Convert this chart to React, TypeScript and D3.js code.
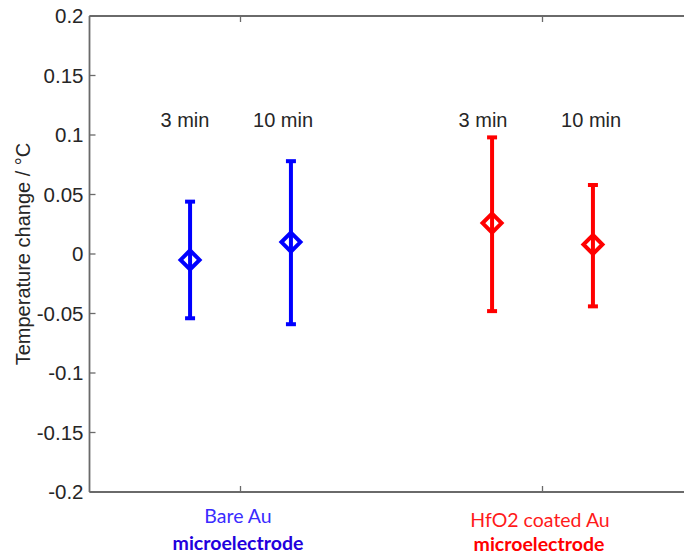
import React from "react";
import * as d3 from "d3";

const groups = ["Bare Au", "HfO2 coated Au"];
const groupColors = ["#0000ff", "#ff0000"];
const times = ["3 min", "10 min"];
const xPositions = [0.833, 1.167, 1.833, 2.167];
const means = [-0.005, 0.01, 0.026, 0.008];
const upper = [0.044, 0.078, 0.098, 0.058];
const lower = [-0.054, -0.059, -0.048, -0.044];
const pointGroup = [0, 0, 1, 1];
const timeLabelX = [0.816, 1.141, 1.803, 2.161];
const timeLabelY = 0.107;
const yTicks = [0.2, 0.15, 0.1, 0.05, 0, -0.05, -0.1, -0.15, -0.2];
const xTicks = [1, 2];
const yLabel = "Temperature change / °C";
const bottomLine1 = ["Bare Au", "HfO2 coated Au"];
const bottomLine2 = ["microelectrode", "microelectrode"];
const bottomLine1Colors = ["#3a2cff", "#ff1a1a"];
const bottomLine2Colors = ["#2200dd", "#ff0000"];

const W = 684;
const H = 556;
const left = 89.5;
const top = 16;
const bottom = 492;
const right = 693.5;

export default function App() {
  const x = d3.scaleLinear().domain([0.5, 2.5]).range([left, right]);
  const y = d3.scaleLinear().domain([-0.2, 0.2]).range([bottom, top]);
  const axisColor = "#6a6a6a";
  const textColor = "#262626";
  const tickFont = "'Liberation Sans', Arial, sans-serif";
  const labelFont = "Lato, 'Open Sans', sans-serif";
  const d = 9.5;
  const capHalf = 5;
  const fmt = (v: number) => (v === 0 ? "0" : String(v));

  return (
    <svg
      width={W}
      height={H}
      style={{ position: "fixed", left: 0, top: 0, background: "#fff" }}
    >
      {/* axes box */}
      <line x1={left} x2={left} y1={top} y2={bottom} stroke={axisColor} strokeWidth={1.8} />
      <line x1={left} x2={right} y1={top} y2={top} stroke={axisColor} strokeWidth={1.8} />
      <line x1={left} x2={right} y1={bottom} y2={bottom} stroke={axisColor} strokeWidth={1.8} />
      {yTicks.map((t) => (
        <g key={"yt" + t}>
          <line x1={left} x2={left + 6} y1={y(t)} y2={y(t)} stroke={axisColor} strokeWidth={1.3} />
          <text
            x={left - 6}
            y={y(t)}
            dy="0.36em"
            textAnchor="end"
            fontFamily={tickFont}
            fontSize={20.5}
            fill={textColor}
          >
            {fmt(t)}
          </text>
        </g>
      ))}
      {xTicks.map((t) => (
        <g key={"xt" + t}>
          <line x1={x(t)} x2={x(t)} y1={bottom} y2={bottom - 6} stroke={axisColor} strokeWidth={1.3} />
          <line x1={x(t)} x2={x(t)} y1={top} y2={top + 6} stroke={axisColor} strokeWidth={1.3} />
        </g>
      ))}
      <text
        transform={`translate(30, ${(140 + 368) / 2}) rotate(-90)`}
        textAnchor="middle"
        fontFamily={tickFont}
        fontSize={20}
        fill={textColor}
      >
        {yLabel}
      </text>

      {/* error bars */}
      {xPositions.map((xp, i) => {
        const c = groupColors[pointGroup[i]];
        const cx = x(xp);
        const cy = y(means[i]);
        return (
          <g key={"eb" + i} stroke={c} strokeWidth={4} fill="none">
            <line x1={cx} x2={cx} y1={y(upper[i])} y2={y(lower[i])} />
            <line x1={cx - capHalf} x2={cx + capHalf} y1={y(upper[i])} y2={y(upper[i])} />
            <line x1={cx - capHalf} x2={cx + capHalf} y1={y(lower[i])} y2={y(lower[i])} />
            <path
              d={`M${cx},${cy - d}L${cx + d},${cy}L${cx},${cy + d}L${cx - d},${cy}Z`}
              strokeLinejoin="miter"
            />
          </g>
        );
      })}

      {/* time labels */}
      {timeLabelX.map((tx, i) => (
        <text
          key={"tl" + i}
          x={x(tx)}
          y={y(timeLabelY)}
          textAnchor="middle"
          fontFamily={tickFont}
          fontSize={20}
          fill={textColor}
        >
          {times[i % 2]}
        </text>
      ))}

      {/* group labels */}
      {groups.map((g, i) => (
        <g key={"gl" + i}>
          <text
            x={x(xTicks[i]) - 2.5}
            y={i === 0 ? 523 : 527}
            textAnchor="middle"
            fontFamily={labelFont}
            fontSize={19.5}
            fill={bottomLine1Colors[i]}
          >
            {bottomLine1[i]}
          </text>
          <text
            x={x(xTicks[i]) - (i === 0 ? 2.5 : 3.5)}
            y={i === 0 ? 550 : 551}
            textAnchor="middle"
            fontFamily={labelFont}
            fontWeight="bold"
            fontSize={19.5}
            fill={bottomLine2Colors[i]}
          >
            {bottomLine2[i]}
          </text>
        </g>
      ))}
    </svg>
  );
}
